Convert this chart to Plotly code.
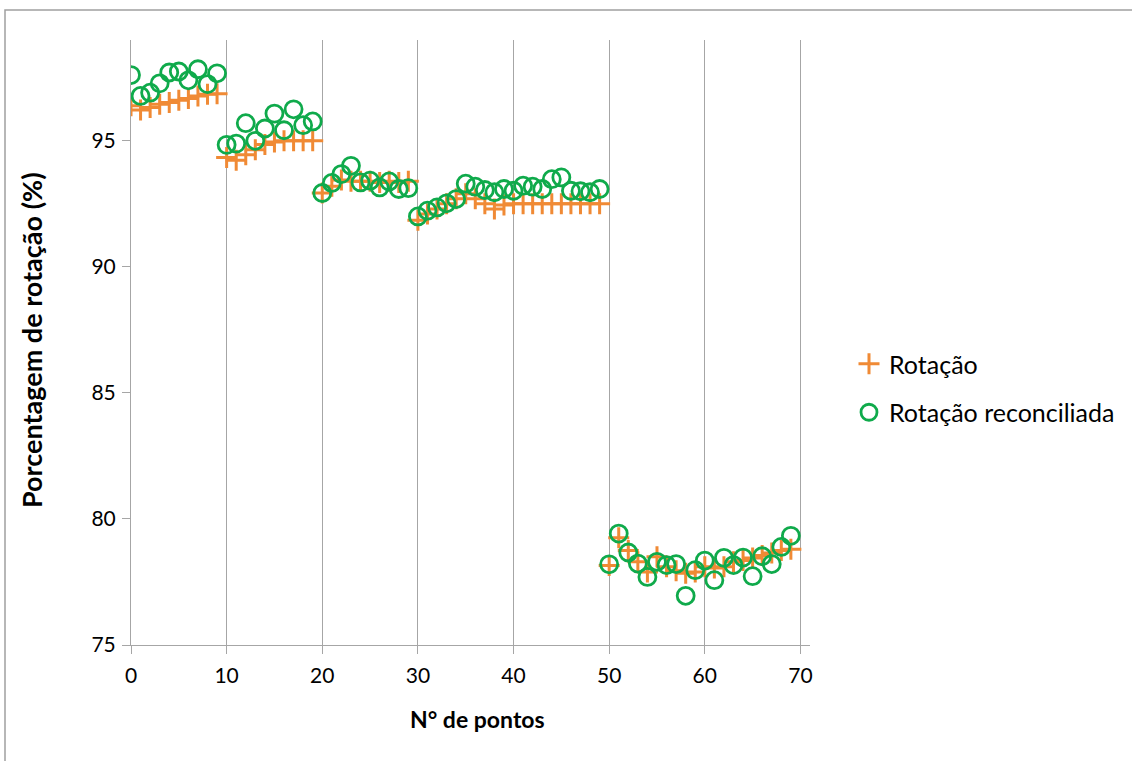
import plotly.graph_objects as go

pontos = list(range(70))

rotacao = [
    96.39, 96.22, 96.32, 96.45, 96.52, 96.61, 96.68, 96.78, 96.85, 96.87,
    94.34, 94.23, 94.45, 94.65, 94.85, 94.95, 95.00, 95.00, 95.00, 95.00,
    92.93, 93.20, 93.45, 93.40, 93.40, 93.40, 93.35, 93.40, 93.35, 93.40,
    91.85, 92.10, 92.30, 92.50, 92.70, 92.90, 92.70, 92.50, 92.30, 92.45,
    92.50, 92.50, 92.50, 92.50, 92.50, 92.50, 92.50, 92.50, 92.50, 92.50,
    78.15, 79.25, 78.75, 78.30, 77.90, 78.50, 78.10, 77.95, 77.85, 77.90,
    78.10, 78.05, 78.10, 78.30, 78.35, 78.45, 78.55, 78.65, 78.75, 78.80,
]

rotacao_reconciliada = [
    97.61, 96.78, 96.91, 97.28, 97.71, 97.75, 97.40, 97.84, 97.25, 97.68,
    94.84, 94.89, 95.70, 95.00, 95.49, 96.08, 95.42, 96.25, 95.62, 95.77,
    92.93, 93.33, 93.68, 94.01, 93.35, 93.42, 93.15, 93.39, 93.09, 93.12,
    92.00, 92.23, 92.36, 92.52, 92.69, 93.30, 93.18, 93.05, 92.96, 93.09,
    93.02, 93.22, 93.18, 93.09, 93.48, 93.55, 93.02, 93.00, 92.96, 93.09,
    78.20, 79.42, 78.67, 78.23, 77.70, 78.30, 78.17, 78.21, 76.95, 77.97,
    78.35, 77.57, 78.46, 78.17, 78.47, 77.73, 78.52, 78.21, 78.89, 79.33,
]

x_ticks = [0, 10, 20, 30, 40, 50, 60, 70]
y_ticks = [75, 80, 85, 90, 95]

FONT = "Lato, 'Open Sans', sans-serif"
GRAY = "#A6A6A6"

fig = go.Figure()
fig.add_trace(go.Scatter(
    x=pontos, y=rotacao, mode="markers", name="Rotação",
    legendgroup="a",
    marker=dict(symbol="cross-thin", size=15, color="#F08A35",
                line=dict(width=3, color="#F08A35")),
))
fig.add_trace(go.Scatter(
    x=pontos, y=rotacao_reconciliada, mode="markers", name="Rotação reconciliada",
    legendgroup="b",
    marker=dict(symbol="circle-open", size=17, color="#0FAA4B",
                line=dict(width=2.8, color="#0FAA4B")),
))

plot_l, plot_r, plot_t, plot_b = 131, 810, 40, 645
W, H = 1132, 761
pw, ph = plot_r - plot_l, plot_b - plot_t

fig.update_layout(
    width=W, height=H,
    margin=dict(l=plot_l, r=W - plot_r, t=plot_t, b=H - plot_b, pad=0, autoexpand=False),
    paper_bgcolor="white", plot_bgcolor="white",
    font=dict(family=FONT, size=21, color="#000000"),
    showlegend=True,
    legend=dict(
        x=(849 - plot_l) / pw, y=(645 - 341) / ph, xanchor="left", yanchor="top",
        font=dict(size=25, family=FONT), tracegroupgap=13,
        bgcolor="rgba(0,0,0,0)", itemwidth=30,
    ),
    xaxis=dict(
        range=[0, 71], tickvals=x_ticks, ticktext=[str(v) for v in x_ticks],
        showgrid=True, gridcolor=GRAY, gridwidth=1,
        showline=True, linecolor=GRAY, linewidth=1,
        ticks="outside", ticklen=8, tickcolor=GRAY, tickwidth=1,
        tickfont=dict(size=21, family=FONT), zeroline=False,
        ticklabelstandoff=4,
    ),
    yaxis=dict(
        range=[75, 99], tickvals=y_ticks, ticktext=[str(v) for v in y_ticks],
        showgrid=False,
        showline=True, linecolor=GRAY, linewidth=1,
        ticks="outside", ticklen=8, tickcolor=GRAY, tickwidth=1,
        tickfont=dict(size=21, family=FONT), zeroline=False,
        ticklabelstandoff=2,
    ),
)

# axis titles placed as annotations
fig.add_annotation(text="<b>N° de pontos</b>", xref="paper", yref="paper",
                   x=(477 - plot_l) / pw, y=(plot_b - 719) / ph,
                   xanchor="center", yanchor="middle", showarrow=False,
                   font=dict(size=23, family=FONT, color="#000000"))
fig.add_annotation(text="<b>Porcentagem de rotação (%)</b>", xref="paper", yref="paper",
                   x=(31 - plot_l) / pw, y=(plot_b - 340) / ph,
                   xanchor="center", yanchor="middle", showarrow=False, textangle=-90,
                   font=dict(size=27, family=FONT, color="#000000"))

# outer chart frame (left and top edges visible)
x_left = (5 - plot_l) / pw
x_right = (W + 5 - plot_l) / pw
y_top = (plot_b - 10) / ph
y_bottom = (plot_b - (H + 5)) / ph
fig.add_shape(type="path", xref="paper", yref="paper",
              path=f"M {x_left} {y_bottom} L {x_left} {y_top} L {x_right} {y_top}",
              line=dict(color="#A0A0A0", width=1.5), layer="below")

fig.write_html("out.html")
